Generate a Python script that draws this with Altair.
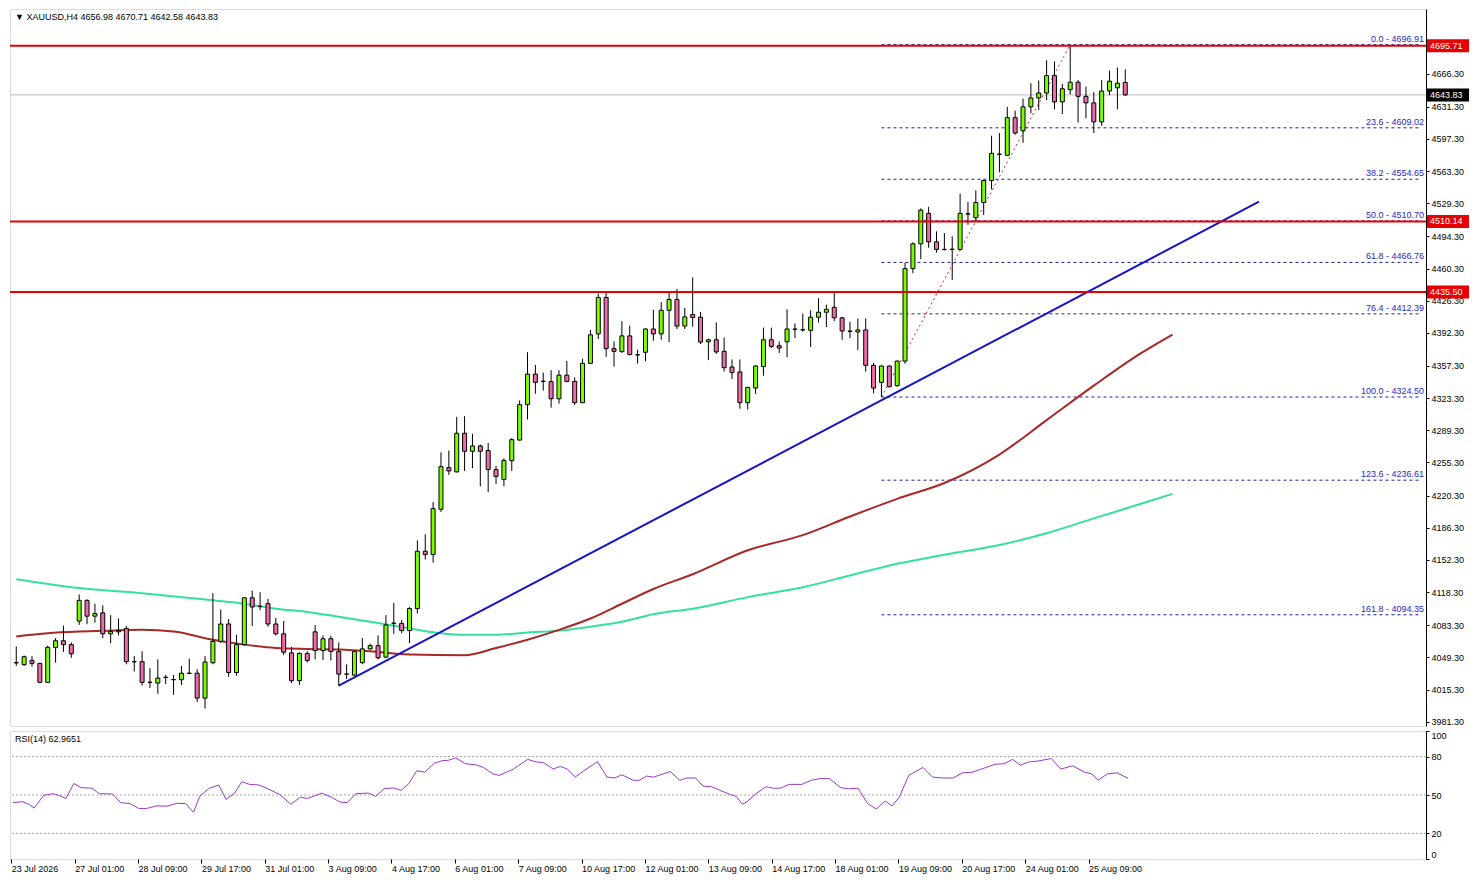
import altair as alt
import pandas as pd

# ---------------- data ----------------
opens = [4043.5,4041.6,4046.1,4043.0,4022.9,4059.7,4066.9,4062.8,4087.7,4109.6,
         4092.9,4096.4,4074.2,4076.3,4079.8,4044.8,4044.8,4022.9,4022.2,4028.1,
         4025.7,4025.7,4032.6,4032.6,4006.3,4043.7,4066.2,4084.6,4033.3,4062.8,
         4112.3,4103.3,4106.1,4084.6,4074.2,4054.1,4024.7,4053.4,4076.3,4056.5,
         4069.0,4055.5,4031.6,4030.5,4043.7,4058.3,4061.7,4049.6,4085.3,4085.3,
         4077.7,4100.9,4161.5,4158.0,4205.9,4249.9,4245.4,4286.2,4267.2,4272.8,
         4267.9,4247.8,4237.4,4257.2,4279.0,4316.4,4348.7,4341.0,4340.7,4322.7,
         4347.6,4341.0,4318.5,4360.1,4391.2,4429.7,4375.6,4372.5,4389.1,4369.0,
         4371.8,4396.4,4391.2,4416.2,4427.6,4399.5,4411.6,4408.9,4382.9,4385.0,
         4372.8,4356.2,4351.0,4318.5,4334.0,4356.6,4385.0,4378.7,4382.9,4396.1,
         4395.4,4395.0,4408.9,4414.1,4419.3,4408.2,4394.0,4393.3,4395.4,4358.0,
         4340.0,4357.3,4336.5,4362.5,4460.2,4486.4,4518.6,4488.5,4480.5,4480.5,
         4480.5,4517.9,4514.1,4530.1,4553.3,4581.0,4580.0,4619.8,4605.9,4631.2,
         4640.6,4645.8,4664.2,4636.4,4649.3,4657.2,4642.3,4635.4,4615.3,4647.9,
         4651.3,4656.98]
highs = [4061.0,4051.3,4050.7,4043.5,4061.7,4069.7,4082.9,4065.2,4115.8,4110.6,
         4106.1,4104.4,4094.0,4090.5,4082.5,4050.7,4055.8,4037.8,4047.2,4030.9,
         4030.9,4040.3,4047.9,4036.8,4050.7,4117.2,4099.9,4089.8,4073.2,4112.8,
         4120.0,4118.2,4111.3,4091.2,4087.7,4060.4,4054.8,4055.8,4083.6,4072.5,
         4072.2,4065.2,4042.0,4056.5,4069.7,4063.8,4072.5,4094.0,4106.8,4088.8,
         4102.6,4173.0,4179.5,4213.5,4266.1,4267.9,4303.6,4304.3,4285.6,4274.2,
         4275.9,4251.6,4259.6,4281.1,4320.9,4371.9,4358.4,4350.4,4352.8,4352.8,
         4362.5,4345.2,4364.9,4395.4,4433.8,4435.2,4383.2,4404.7,4399.9,4374.6,
         4397.1,4416.8,4424.8,4435.9,4438.7,4418.6,4450.8,4414.4,4386.0,4403.3,
         4387.4,4364.2,4364.2,4335.2,4358.3,4397.8,4397.8,4383.2,4417.2,4402.3,
         4412.7,4416.2,4429.0,4422.1,4435.9,4409.2,4404.0,4407.5,4407.5,4360.7,
         4357.8,4357.8,4363.1,4466.4,4488.0,4523.8,4525.6,4499.6,4497.8,4494.4,
         4539.4,4530.7,4542.9,4554.3,4600.7,4603.5,4631.2,4627.1,4639.9,4656.2,
         4659.0,4680.4,4679.1,4655.5,4696.91,4659.6,4652.7,4646.8,4659.6,4669.4,
         4672.8,4670.71]
lows = [4040.3,4040.3,4039.6,4022.5,4022.5,4043.7,4055.2,4048.9,4083.6,4084.3,
        4086.0,4069.7,4064.5,4072.5,4042.0,4034.4,4019.5,4017.0,4010.8,4021.2,
        4009.8,4020.2,4031.6,4002.1,3995.2,4042.0,4064.5,4028.8,4029.9,4061.7,
        4082.5,4099.2,4081.8,4072.5,4051.7,4022.2,4020.2,4043.7,4047.2,4046.5,
        4046.1,4019.5,4026.4,4029.9,4042.0,4057.6,4047.2,4048.9,4074.2,4074.9,
        4064.5,4095.7,4152.8,4149.4,4203.1,4242.2,4244.7,4246.4,4249.2,4230.1,
        4223.9,4232.6,4230.1,4246.4,4278.5,4300.8,4327.9,4331.3,4313.3,4317.5,
        4340.0,4316.1,4318.0,4359.7,4385.7,4367.0,4356.6,4371.1,4368.5,4359.7,
        4362.4,4383.9,4385.0,4382.5,4396.4,4396.4,4398.8,4380.5,4363.5,4370.1,
        4351.4,4343.4,4312.2,4311.2,4327.8,4346.9,4376.3,4371.1,4366.6,4386.7,
        4393.6,4377.4,4403.3,4398.5,4404.7,4385.0,4386.7,4373.9,4351.4,4328.5,
        4324.5,4334.7,4335.4,4359.7,4455.3,4470.1,4482.2,4477.0,4479.5,4448.3,
        4479.5,4506.5,4510.0,4516.9,4543.9,4561.9,4579.3,4601.8,4593.1,4624.3,
        4627.8,4638.2,4628.5,4623.6,4644.4,4614.6,4619.1,4603.5,4611.1,4643.4,
        4628.5,4642.58]
closes = [4043.7,4050.0,4043.0,4022.9,4060.0,4066.9,4062.8,4053.1,4109.6,4092.9,
          4095.7,4074.2,4076.6,4077.7,4044.8,4044.6,4022.9,4023.1,4027.4,4028.3,
          4025.9,4032.6,4032.4,4006.3,4044.4,4066.2,4084.6,4033.3,4062.8,4112.3,
          4102.6,4103.1,4084.6,4074.2,4054.8,4024.7,4053.4,4046.1,4056.5,4069.0,
          4055.5,4031.6,4031.8,4055.5,4058.3,4061.7,4048.9,4083.6,4085.5,4077.7,
          4100.9,4161.5,4158.0,4206.5,4250.9,4246.4,4286.2,4267.2,4272.8,4267.2,
          4247.8,4240.5,4257.5,4279.4,4316.4,4348.7,4340.0,4341.2,4322.7,4347.6,
          4341.0,4318.5,4360.1,4390.2,4429.7,4375.6,4372.8,4389.1,4369.4,4369.2,
          4396.4,4391.2,4416.2,4427.6,4399.5,4409.2,4408.5,4382.6,4385.0,4372.2,
          4355.5,4350.3,4318.5,4334.7,4357.3,4385.0,4378.0,4376.3,4396.4,4396.3,
          4395.6,4408.9,4414.1,4417.2,4408.2,4394.3,4394.2,4395.4,4358.0,4334.0,
          4357.3,4335.4,4362.5,4460.2,4486.4,4522.1,4488.5,4480.5,4480.3,4480.7,
          4518.6,4518.1,4530.1,4553.3,4582.0,4581.2,4619.8,4603.5,4631.2,4640.6,
          4645.8,4664.2,4636.4,4650.3,4657.2,4642.3,4635.4,4615.3,4647.9,4658.3,
          4656.2,4643.83]

# moving averages (shifted forward), read at sampled bars
ma_red_x = [0,4,8,12,16,20,25,29,33,37,41,45,50,57,61,65,69,73,77,81,86,93,100,106,112,118,125,131,137,143,147]
ma_red_y = [4071.4,4074.8,4076.6,4077.6,4078.4,4076.6,4068.0,4062.8,4059.2,4058.2,4057.6,4055.8,4052.4,4051.6,
            4059.2,4068.0,4078.4,4090.4,4106.0,4121.6,4137.2,4162.5,4178.5,4198.2,4216.9,4233.6,4263.7,4300.1,
            4336.5,4370.8,4390.5]
ma_green_x = [0,8,16,25,29,33,37,41,45,50,54,57,61,65,69,73,77,81,86,93,100,106,112,118,125,131,137,143,147]
ma_green_y = [4132.0,4122.6,4117.1,4109.6,4106.0,4100.8,4097.4,4092.2,4087.0,4080.0,4074.8,4073.2,4073.2,
              4075.6,4077.6,4081.8,4087.0,4095.0,4100.8,4113.0,4123.4,4135.9,4148.3,4157.7,4168.1,4180.6,
              4196.2,4211.7,4222.1]

# trend line and fibonacci swing
trend_x = [41, 158]
trend_y = [4019.4, 4530.9]
swing_x = [110, 134]
swing_y = [4324.50, 4696.91]
fib_ratio = ["0.0","23.6","38.2","50.0","61.8","76.4","100.0","123.6","161.8"]
fib_price = [4696.91,4609.02,4554.65,4510.70,4466.76,4412.39,4324.50,4236.61,4094.35]

red_levels = [4695.71, 4510.14, 4435.50]
bid = 4643.83

y_ticks = [4666.30,4631.30,4597.30,4563.30,4529.30,4494.30,4460.30,4426.30,4392.30,4357.30,
           4323.30,4289.30,4255.30,4220.30,4186.30,4152.30,4118.30,4083.30,4049.30,4015.30,3981.30]

x_label_text = ["23 Jul 2026","27 Jul 01:00","28 Jul 09:00","29 Jul 17:00","31 Jul 01:00","3 Aug 09:00",
                "4 Aug 17:00","6 Aug 01:00","7 Aug 09:00","10 Aug 17:00","12 Aug 01:00","13 Aug 09:00",
                "14 Aug 17:00","18 Aug 01:00","19 Aug 09:00","20 Aug 17:00","24 Aug 01:00","25 Aug 09:00"]
x_label_pos = [0,8,16,24,32,40,48,56,64,72,80,88,96,104,112,120,128,136]

rsi_x = [0.2,1.4,2.2,2.9,4.1,5.3,6.1,6.9,7.9,8.8,10.2,11.1,12.8,13.8,15.0,16.1,17.1,18.3,19.7,20.9,
         22.0,23.0,23.8,25.0,26.2,27.1,28.2,29.1,30.1,31.3,32.7,33.9,35.3,36.5,37.4,39.2,40.4,41.5,
         42.4,43.5,45.1,46.0,47.1,48.3,49.2,50.2,51.2,52.2,53.4,54.5,55.1,56.1,57.3,58.7,59.6,60.8,
         61.6,63.4,65.2,66.3,67.2,68.4,69.3,70.2,71.2,72.3,74.0,75.2,76.2,77.1,78.5,79.3,80.2,81.1,
         82.3,83.2,84.4,85.3,86.4,87.3,88.4,89.6,90.8,91.5,92.3,92.9,94.1,95.3,96.2,97.1,98.2,99.8,
         101.0,102.1,103.3,104.7,105.7,106.9,108.1,109.2,110.3,111.2,112.1,113.3,115.1,116.3,117.5,
         118.9,120.1,121.3,122.5,124.2,125.4,126.4,127.4,128.4,129.6,131.3,132.5,134.0,135.5,136.4,
         137.2,138.4,139.6,141.0]
rsi_v = [44.0,44.8,42.8,39.8,49.8,51.0,49.5,47.3,59.0,55.8,55.3,51.0,50.8,44.0,43.3,39.5,39.5,41.5,41.3,
         43.5,43.3,36.5,49.0,55.3,57.8,46.5,51.5,60.3,58.3,57.8,54.0,50.3,42.8,48.3,47.3,51.5,48.3,44.5,
         44.0,51.0,51.5,49.0,55.0,55.5,53.5,59.0,69.0,67.8,74.8,77.0,77.0,79.0,74.5,73.5,71.5,66.5,65.3,
         70.3,77.8,75.8,75.3,70.3,72.3,70.3,64.0,69.0,76.0,64.0,63.3,65.8,61.5,61.5,64.8,64.0,66.5,68.3,
         61.5,63.3,63.3,57.0,56.5,53.3,50.3,49.0,42.8,44.8,51.5,56.5,55.3,55.3,58.3,58.3,61.5,62.8,62.8,
         55.8,54.8,55.3,43.3,39.0,45.3,41.5,48.3,65.3,71.5,64.0,63.3,63.3,67.3,67.8,70.3,74.0,74.5,77.8,
         73.3,75.8,76.5,78.5,70.3,72.8,67.8,66.5,61.5,66.5,67.3,62.97]

header = "\u25bc XAUUSD,H4  4656.98 4670.71 4642.58 4643.83"
rsi_title = "RSI(14) 62.9651"

# ---------------- layout ----------------
W = 1416
H1 = 717
H2 = 128
X0, X1 = -0.16, 178.6
Y0, Y1 = 3976.8, 4734.6
FONT = "Liberation Sans"

xs = alt.Scale(domain=[X0, X1], nice=False, zero=False)
ys = alt.Scale(domain=[Y0, Y1], nice=False, zero=False)
rs = alt.Scale(domain=[0, 100], nice=False, zero=False)

price_axis = alt.Axis(orient="right", values=y_ticks, format=".2f", tickSize=3, labelPadding=2,
                      labelOverlap=False, labelFlush=False, grid=False, domainColor="black",
                      tickColor="black", labelColor="black", labelFontSize=9, labelFont=FONT, title=None)
X = lambda f: alt.X(f, scale=xs, axis=None)
Y = lambda f: alt.Y(f, scale=ys, title=None, axis=price_axis)

candles = pd.DataFrame({"i": list(range(len(opens))), "o": opens, "h": highs, "l": lows, "c": closes})
candles["dir"] = ["up" if c >= o else "down" for o, c in zip(opens, closes)]

wicks = alt.Chart(candles).mark_rule(color="black", strokeWidth=1).encode(
    x=X("i:Q"), y=Y("l:Q"), y2="h:Q")
bodies = alt.Chart(candles).mark_bar(width=4, stroke="black", strokeWidth=1).encode(
    x=X("i:Q"), y=Y("o:Q"), y2="c:Q",
    color=alt.Color("dir:N", scale=alt.Scale(domain=["up", "down"], range=["#7CFC00", "#EE6BA8"]), legend=None),
)

ma_red = alt.Chart(pd.DataFrame({"i": ma_red_x, "v": ma_red_y})).mark_line(
    color="#A82828", strokeWidth=2, interpolate="monotone").encode(x=X("i:Q"), y=Y("v:Q"))
ma_green = alt.Chart(pd.DataFrame({"i": ma_green_x, "v": ma_green_y})).mark_line(
    color="#33E0A0", strokeWidth=2, interpolate="monotone").encode(x=X("i:Q"), y=Y("v:Q"))

trend = alt.Chart(pd.DataFrame({"i": trend_x, "v": trend_y})).mark_line(
    color="#1414C8", strokeWidth=2).encode(x=X("i:Q"), y=Y("v:Q"))
swing = alt.Chart(pd.DataFrame({"i": swing_x, "v": swing_y})).mark_line(
    color="#C83030", strokeWidth=1, strokeDash=[2, 3]).encode(x=X("i:Q"), y=Y("v:Q"))

fib = pd.DataFrame({"r": fib_ratio, "p": fib_price})
fib["x0"] = swing_x[0]
fib["x1"] = X1
fib["lab"] = [f"{r} - {p:.2f}" for r, p in zip(fib_ratio, fib_price)]
fib_lines = alt.Chart(fib).mark_rule(color="#1C1CA8", strokeWidth=1, strokeDash=[3, 3]).encode(
    x=X("x0:Q"), x2="x1:Q", y=Y("p:Q"))
fib_text = alt.Chart(fib).mark_text(align="right", baseline="bottom", dy=-1, color="#2828C8",
                                    fontSize=9, font=FONT).encode(
    x=alt.value(W - 2), y=Y("p:Q"), text="lab:N")

bid_line = alt.Chart(pd.DataFrame({"p": [bid]})).mark_rule(color="#BDBDBD", strokeWidth=1).encode(y=Y("p:Q"))
red_lines = alt.Chart(pd.DataFrame({"p": red_levels})).mark_rule(color="#E60000", strokeWidth=2).encode(y=Y("p:Q"))

unit = (Y1 - Y0) / H1
boxes = pd.DataFrame({"p": red_levels + [bid], "bg": ["#E60000"] * 3 + ["#000000"]})
boxes["lo"] = boxes["p"] - 6.5 * unit
boxes["hi"] = boxes["p"] + 6.5 * unit
boxes["lab"] = [f"{p:.2f}" for p in boxes["p"]]
box_rect = alt.Chart(boxes).mark_rect().encode(
    x=alt.value(W + 1), x2=alt.value(W + 43), y=Y("lo:Q"), y2="hi:Q",
    color=alt.Color("bg:N", scale=None))
box_text = alt.Chart(boxes).mark_text(align="left", baseline="middle", color="white", fontSize=9, font=FONT).encode(
    x=alt.value(W + 4), y=Y("p:Q"), text="lab:N")

head = alt.Chart(pd.DataFrame({"t": [header]})).mark_text(
    align="left", baseline="middle", fontSize=9, font=FONT, color="black").encode(
    x=alt.value(5), y=alt.value(8), text="t:N")

main = alt.layer(fib_lines, bid_line, ma_green, ma_red, trend, swing, wicks, bodies, red_lines,
                 fib_text, box_rect, box_text, head).properties(width=W, height=H1)

# ---------------- RSI panel ----------------
lbl_expr = "[" + ",".join(f"'{s}'" for s in x_label_text) + "][round(datum.value/8)]"
rsi_axis = alt.Axis(orient="right", values=[0, 20, 50, 80, 100], tickSize=3, labelPadding=2,
                    labelFlush=True, labelOverlap=False, grid=False, domainColor="black",
                    tickColor="black", labelColor="black", labelFontSize=9, labelFont=FONT, title=None)
rsi_df = pd.DataFrame({"i": rsi_x, "v": rsi_v})
rsi_line = alt.Chart(rsi_df).mark_line(color="#9A3AC8", strokeWidth=1).encode(
    x=alt.X("i:Q", scale=xs, title=None,
            axis=alt.Axis(values=x_label_pos, labelExpr=lbl_expr, labelAlign="left", labelFlush=False,
                          labelOverlap=False, tickSize=4, tickColor="black", domain=False, grid=False,
                          labelFontSize=9, labelFont=FONT, labelColor="black", labelPadding=1)),
    y=alt.Y("v:Q", scale=rs, title=None, axis=rsi_axis),
)
rsi_levels = alt.Chart(pd.DataFrame({"v": [20, 50, 80]})).mark_rule(
    color="#A8A8A8", strokeWidth=1, strokeDash=[2, 2]).encode(y=alt.Y("v:Q", scale=rs, axis=rsi_axis))
rsi_head = alt.Chart(pd.DataFrame({"t": [rsi_title]})).mark_text(
    align="left", baseline="middle", fontSize=9, font=FONT, color="black").encode(
    x=alt.value(5), y=alt.value(8), text="t:N")
rsi = alt.layer(rsi_levels, rsi_line, rsi_head).properties(width=W, height=H2)

chart = alt.vconcat(main, rsi, spacing=2, padding=0).configure_view(
    stroke="black", strokeWidth=1).configure_axis(labelOverlap=False).configure(background="white")

chart.save("out.html", embed_options={"renderer": "svg", "actions": False})
